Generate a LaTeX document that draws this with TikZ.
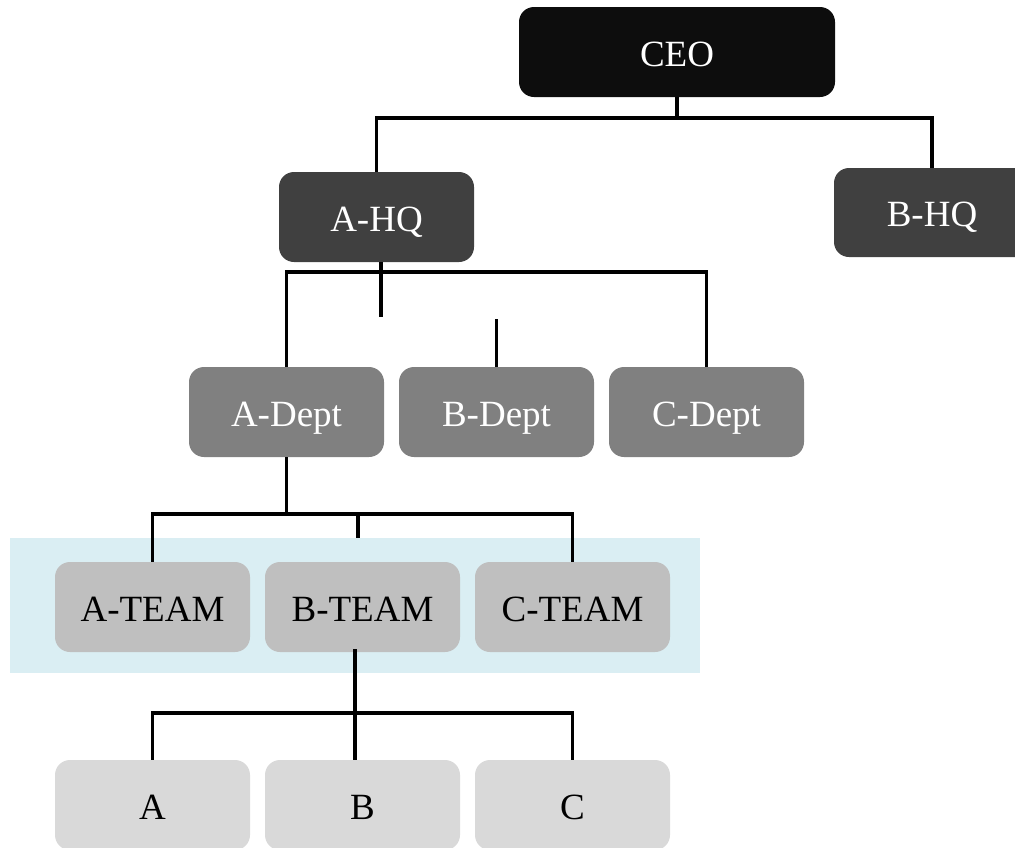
\documentclass[tikz,border=0pt]{standalone}
\usepackage{fontspec}
\setmainfont{Liberation Serif}
\definecolor{ceoc}{HTML}{0D0D0D}
\definecolor{hqc}{HTML}{404040}
\definecolor{deptc}{HTML}{808080}
\definecolor{teamc}{HTML}{BFBFBF}
\definecolor{unitc}{HTML}{D9D9D9}
\definecolor{bandc}{HTML}{DAEEF3}
\begin{document}
\begin{tikzpicture}[x=1pt,y=-1pt,
  box/.style={rounded corners=15pt, minimum width=195pt, minimum height=90pt,
    inner sep=0pt, text height=28pt, text depth=0pt,
    font=\fontsize{37}{40}\selectfont, anchor=center},
  ceobox/.style={box, fill=ceoc, text=white, minimum width=316pt},
  hqbox/.style={box, fill=hqc, text=white},
  deptbox/.style={box, fill=deptc, text=white},
  teambox/.style={box, fill=teamc, text=black},
  unitbox/.style={box, fill=unitc, text=black},
  conn/.style={line width=3.3pt, line join=miter, draw=black}]
\useasboundingbox (0,0) rectangle (1015,847);
% band
\fill[bandc] (10,538) rectangle (700,673);
% nodes
\node[ceobox] (ceo) at (677,52) {CEO};
\node[hqbox] (ahq) at (376.5,217) {A-HQ};
\node[hqbox, minimum width=196pt, minimum height=89pt] (bhq) at (932,212.5) {B-HQ};
\node[deptbox] (adept) at (286.5,412) {A-Dept};
\node[deptbox] (bdept) at (496.5,412) {B-Dept};
\node[deptbox] (cdept) at (706.5,412) {C-Dept};
\node[teambox] (ateam) at (152.5,607) {A-TEAM};
\node[teambox] (bteam) at (362.5,607) {B-TEAM};
\node[teambox] (cteam) at (572.5,607) {C-TEAM};
\node[unitbox] (ua) at (152.5,805) {A};
\node[unitbox] (ub) at (362.5,805) {B};
\node[unitbox] (uc) at (572.5,805) {C};
% coordinates
\coordinate (j1) at (677,118);
\coordinate (s1) at (381,317);
\coordinate (j2) at (496.5,272);
\coordinate (s2) at (496.5,319);
\coordinate (j3) at (286.5,514);
\coordinate (s3a) at (358,514);
\coordinate (s3b) at (358,538);
\coordinate (t1) at (355,649);
\coordinate (j4) at (355,713);
% connectors
\draw[conn] (ceo.south) -- (j1);
\draw[conn] (ahq.north) |- (j1) -| (bhq.north);
\draw[conn] ([xshift=4.5pt]ahq.south) -- (s1);
\draw[conn] (adept.north) |- (j2) -| (cdept.north);
\draw[conn] (s2) -- (bdept.north);
\draw[conn] (adept.south) -- (j3);
\draw[conn] (ateam.north) |- (j3) -| (cteam.north);
\draw[conn] (s3a) -- (s3b);
\draw[conn] (t1) -- (ub.north -| t1);
\draw[conn] (ua.north) |- (j4) -| (uc.north);
\end{tikzpicture}
\end{document}
